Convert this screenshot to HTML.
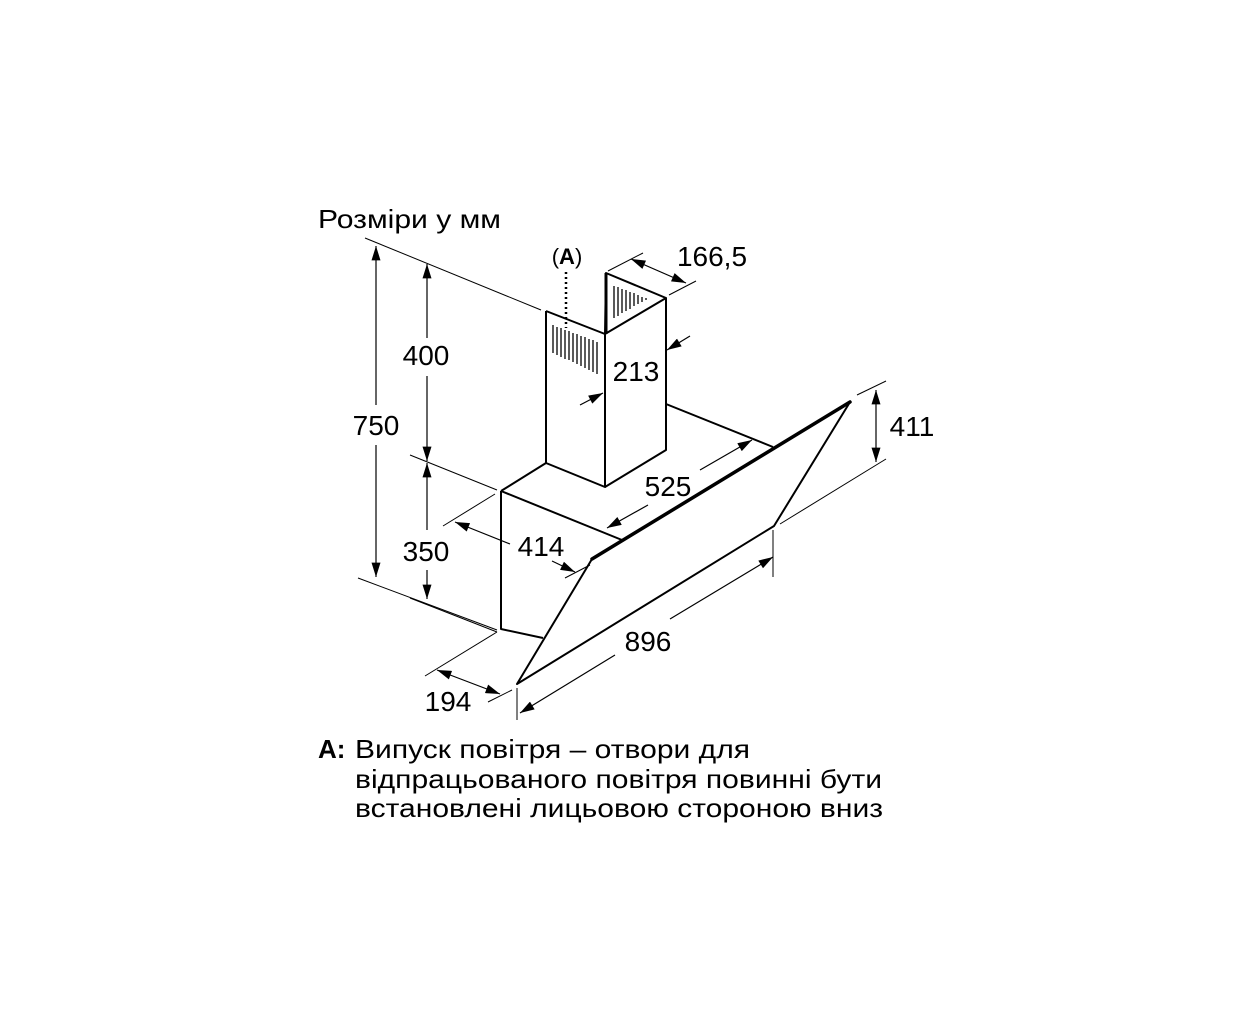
<!DOCTYPE html>
<html><head><meta charset="utf-8"><style>html,body{margin:0;padding:0;background:#fff}svg{display:block}</style></head>
<body>
<svg width="1252" height="1024" viewBox="0 0 1252 1024" xmlns="http://www.w3.org/2000/svg" font-family="Liberation Sans, Noto Sans CJK SC, sans-serif">
<defs>
<marker id="ab" viewBox="0 0 16 10" refX="16" refY="5" markerWidth="16" markerHeight="9" orient="auto-start-reverse" markerUnits="userSpaceOnUse"><path d="M0,0 L16,5 L0,10 z" fill="#000"/></marker>
</defs>
<rect width="1252" height="1024" fill="#fff"/>
<text x="318" y="228" font-size="26" textLength="183" lengthAdjust="spacingAndGlyphs">Розміри у мм</text>

<g stroke="#000" stroke-width="1" fill="none">
<line x1="365" y1="238" x2="541" y2="310"/>
<line x1="358" y1="578" x2="497" y2="630"/>
<line x1="410" y1="455" x2="497" y2="490"/>
<line x1="410" y1="598" x2="497" y2="632"/>
<line x1="443" y1="526" x2="495" y2="494"/>
<line x1="565" y1="578" x2="590" y2="565"/>
<line x1="425" y1="676" x2="497" y2="632"/>
<line x1="488" y1="702" x2="512" y2="690"/>
<line x1="517" y1="688" x2="517" y2="720"/>
<line x1="773" y1="530" x2="773" y2="577"/>
<line x1="857" y1="395" x2="886" y2="381"/>
<line x1="780" y1="524" x2="886" y2="459"/>
<line x1="608" y1="271" x2="643" y2="253"/>
<line x1="669" y1="295" x2="696" y2="281"/>
</g>

<g stroke="#000" stroke-width="1.2" fill="none">
<line x1="376" y1="246" x2="376" y2="405" marker-start="url(#ab)"/>
<line x1="376" y1="445" x2="376" y2="577" marker-end="url(#ab)"/>
<line x1="427" y1="264" x2="427" y2="338" marker-start="url(#ab)"/>
<line x1="427" y1="376" x2="427" y2="461" marker-end="url(#ab)"/>
<line x1="427" y1="463" x2="427" y2="530" marker-start="url(#ab)"/>
<line x1="427" y1="570" x2="427" y2="599" marker-end="url(#ab)"/>
<line x1="455" y1="522" x2="510" y2="544" marker-start="url(#ab)"/>
<line x1="552" y1="561" x2="575" y2="572" marker-end="url(#ab)"/>
<line x1="607" y1="528" x2="648" y2="505" marker-start="url(#ab)"/>
<line x1="700" y1="470" x2="752" y2="440" marker-end="url(#ab)"/>
<line x1="520" y1="713" x2="615" y2="655" marker-start="url(#ab)"/>
<line x1="670" y1="619" x2="773" y2="557" marker-end="url(#ab)"/>
<line x1="876" y1="390" x2="876" y2="462" marker-start="url(#ab)" marker-end="url(#ab)"/>
<line x1="437" y1="670" x2="500" y2="694" marker-start="url(#ab)" marker-end="url(#ab)"/>
<line x1="631" y1="259" x2="686" y2="283" marker-start="url(#ab)" marker-end="url(#ab)"/>
<line x1="690" y1="336" x2="667" y2="350" marker-end="url(#ab)"/>
<line x1="580" y1="405" x2="603" y2="393" marker-end="url(#ab)"/>
</g>

<g stroke="#000" stroke-width="2" fill="none" stroke-linejoin="round">
<polyline points="546,311 546,463 605,487 605,334 546,311"/>
<polyline points="605,334 666,298 666,450 605,487"/>
<polyline points="605,334 606,273 666,298"/>
<line x1="666" y1="404" x2="773" y2="447"/>
<line x1="546" y1="463" x2="501" y2="491"/>
<line x1="501" y1="491" x2="622" y2="540"/>
<polyline points="501,491 501,629 543,638"/>
<polyline points="592,559 517,684 774,526 850,402"/>
</g>
<line x1="592" y1="559" x2="850" y2="402" stroke="#000" stroke-width="3.5" stroke-linecap="round"/>
<line x1="606" y1="273" x2="606" y2="334" stroke="#000" stroke-width="3"/>

<g stroke="#000" stroke-width="1.3">
<line x1="553" y1="325" x2="553" y2="353"/><line x1="557" y1="327" x2="557" y2="355"/>
<line x1="561" y1="328" x2="561" y2="357"/><line x1="565" y1="330" x2="565" y2="359"/>
<line x1="569" y1="331" x2="569" y2="360"/><line x1="573" y1="333" x2="573" y2="362"/>
<line x1="577" y1="334" x2="577" y2="364"/><line x1="581" y1="336" x2="581" y2="366"/>
<line x1="585" y1="337" x2="585" y2="368"/><line x1="589" y1="339" x2="589" y2="370"/>
<line x1="593" y1="340" x2="593" y2="372"/><line x1="597" y1="342" x2="597" y2="374"/>
<line x1="614" y1="286" x2="614" y2="318"/><line x1="618" y1="287" x2="618" y2="316"/>
<line x1="622" y1="289" x2="622" y2="313"/><line x1="626" y1="290" x2="626" y2="311"/>
<line x1="630" y1="292" x2="630" y2="309"/><line x1="634" y1="293" x2="634" y2="306"/>
<line x1="638" y1="295" x2="638" y2="304"/><line x1="642" y1="297" x2="642" y2="302"/>
<line x1="646" y1="298" x2="646" y2="300"/>
</g>
<line x1="566" y1="272" x2="566" y2="328" stroke="#000" stroke-width="2.5" stroke-dasharray="2,3"/>

<g font-size="28" fill="#000">
<text x="567" y="264" text-anchor="middle" font-size="22">(<tspan font-weight="bold">A</tspan>)</text>
<text x="712" y="266" text-anchor="middle">166,5</text>
<text x="636" y="381" text-anchor="middle">213</text>
<text x="426" y="365" text-anchor="middle">400</text>
<text x="376" y="435" text-anchor="middle">750</text>
<text x="426" y="561" text-anchor="middle">350</text>
<text x="541" y="556" text-anchor="middle">414</text>
<text x="668" y="496" text-anchor="middle">525</text>
<text x="648" y="651" text-anchor="middle">896</text>
<text x="912" y="436" text-anchor="middle">411</text>
<text x="448" y="711" text-anchor="middle">194</text>
</g>

<g font-size="26" fill="#000">
<text x="318" y="758" font-weight="bold">A:</text>
<text x="355" y="758" textLength="395" lengthAdjust="spacingAndGlyphs">Випуск повітря – отвори для</text>
<text x="355" y="788" textLength="527" lengthAdjust="spacingAndGlyphs">відпрацьованого повітря повинні бути</text>
<text x="355" y="817" textLength="528" lengthAdjust="spacingAndGlyphs">встановлені лицьовою стороною вниз</text>
</g>
</svg>
</body></html>
